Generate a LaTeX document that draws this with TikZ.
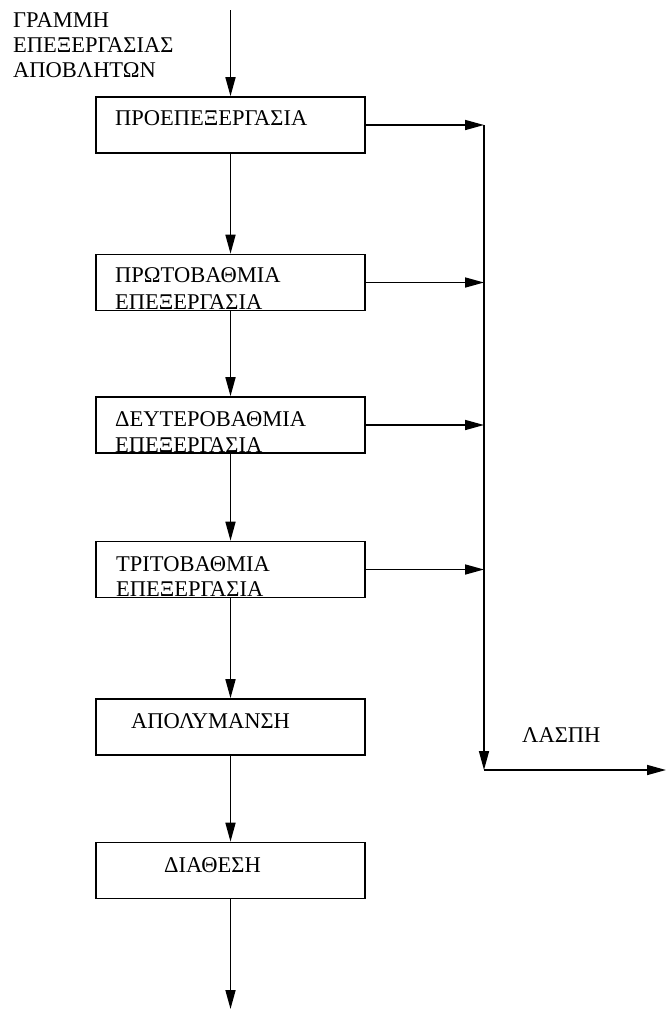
\documentclass[tikz,border=0pt]{standalone}
\usepackage{fontspec}
\setmainfont{Liberation Serif}
\usetikzlibrary{arrows.meta}
\begin{document}
\begin{tikzpicture}[x=1pt,y=-1pt,
  box/.style={draw,line width=1.6pt,minimum width=269pt,minimum height=56pt,inner sep=0pt},
  txt/.style={anchor=base west,inner sep=0pt,font=\fontsize{22.5}{27}\selectfont},
  conn/.style={line width=1.6pt},
  arr/.style={conn,-{Triangle[length=19pt,width=10pt]}}]
\useasboundingbox (0,0) rectangle (666,1010);
% boxes
\node[box] (b1) at (230.5,125) {};
\node[box] (b2) at (230.5,282.5) {};
\node[box] (b3) at (230.5,425) {};
\node[box] (b4) at (230.5,569.5) {};
\node[box] (b5) at (230.5,727) {};
\node[box] (b6) at (230.5,870.5) {};
% texts
\node[txt] (t0a) at (13,27) {ΓΡΑΜΜΗ};
\node[txt] (t0b) at (13,52) {ΕΠΕΞΕΡΓΑΣΙΑΣ};
\node[txt] (t0c) at (13,77) {ΑΠΟΒΛΗΤΩΝ};
\node[txt] (t1) at (115,125) {ΠΡΟΕΠΕΞΕΡΓΑΣΙΑ};
\node[txt] (t2a) at (115,282) {ΠΡΩΤΟΒΑΘΜΙΑ};
\node[txt] (t2b) at (115,309) {ΕΠΕΞΕΡΓΑΣΙΑ};
\node[txt] (t3a) at (115,426) {ΔΕΥΤΕΡΟΒΑΘΜΙΑ};
\node[txt] (t3b) at (115,452) {ΕΠΕΞΕΡΓΑΣΙΑ};
\node[txt] (t4a) at (116,571) {ΤΡΙΤΟΒΑΘΜΙΑ};
\node[txt] (t4b) at (116,596) {ΕΠΕΞΕΡΓΑΣΙΑ};
\node[txt] (t5) at (131,728) {ΑΠΟΛΥΜΑΝΣΗ};
\node[txt] (t6) at (164,872) {ΔΙΑΘΕΣΗ};
\node[txt] (tl) at (522,742) {ΛΑΣΠΗ};
% coordinates
\coordinate (in) at (230.5,10);
\coordinate (out) at (230.5,1009);
\coordinate (c1) at (484,125);
\coordinate (c2) at (484,282.5);
\coordinate (c3) at (484,425);
\coordinate (c4) at (484,569.5);
\coordinate (cs) at (484,770);
\coordinate (sl) at (666,770);
% main flow
\draw[arr] (in) -- (b1.north);
\draw[arr] (b1) -- (b2);
\draw[arr] (b2) -- (b3);
\draw[arr] (b3) -- (b4);
\draw[arr] (b4) -- (b5);
\draw[arr] (b5) -- (b6);
\draw[arr] (b6.south) -- (out);
% sludge
\draw[arr] (b1.east) -- (c1);
\draw[arr] (b2.east) -- (c2);
\draw[arr] (b3.east) -- (c3);
\draw[arr] (b4.east) -- (c4);
\draw[arr] (c1) -- (cs);
\draw[arr] (cs) -- (sl);
\end{tikzpicture}
\end{document}
